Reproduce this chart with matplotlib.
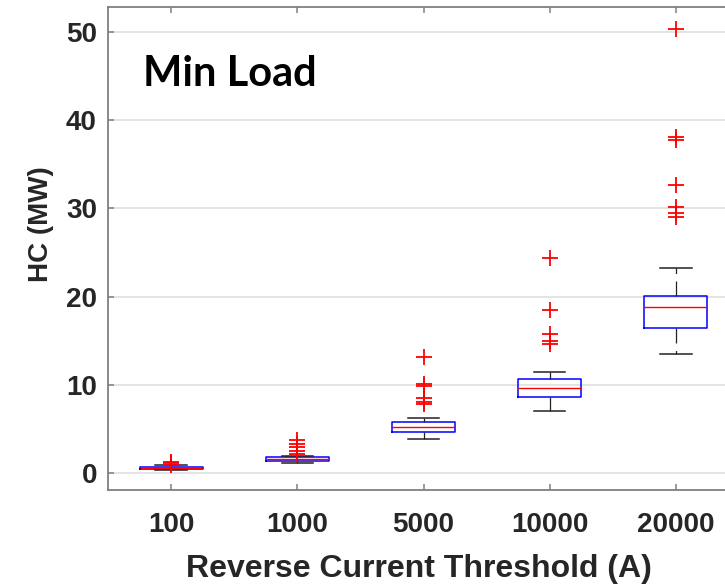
import matplotlib
matplotlib.use('Agg')
import matplotlib.pyplot as plt

categories = ['100', '1000', '5000', '10000', '20000']
q1 = [0.45, 1.40, 4.68, 8.58, 16.47]
medians = [0.55, 1.55, 5.25, 9.67, 18.79]
q3 = [0.65, 1.78, 5.82, 10.62, 20.10]
whisker_low = [0.30, 1.17, 3.80, 7.03, 13.46]
whisker_high = [0.85, 1.96, 6.20, 11.45, 23.28]
outliers = [
    [0.95, 1.10, 1.25],
    [2.10, 2.45, 2.90, 3.30, 3.75],
    [7.80, 8.00, 8.50, 9.90, 10.10, 13.20],
    [14.60, 15.00, 15.70, 18.50, 24.40],
    [29.00, 29.50, 30.20, 32.60, 37.80, 38.10, 50.30],
]
yticks = [0, 10, 20, 30, 40, 50]

W, H = 725, 586
fig = plt.figure(figsize=(W / 100, H / 100), dpi=100)
left, right, top, bottom = 108, 739, 7, 490
ax = fig.add_axes([left / W, 1 - bottom / H, (right - left) / W, (bottom - top) / H])

stats = []
for i, c in enumerate(categories):
    stats.append(dict(label=c, q1=q1[i], med=medians[i], q3=q3[i],
                      whislo=whisker_low[i], whishi=whisker_high[i],
                      fliers=outliers[i]))

positions = list(range(1, len(categories) + 1))
ax.bxp(stats, positions=positions, widths=0.5, showfliers=True,
       boxprops=dict(color='#0000ff', linewidth=1.1),
       medianprops=dict(color='#ff0000', linewidth=1.0),
       whiskerprops=dict(color='#222222', linewidth=0.9, linestyle=(0, (12, 6))),
       capprops=dict(color='#222222', linewidth=1.1),
       flierprops=dict(marker='+', markeredgecolor='#ff0000', markersize=11,
                       markeredgewidth=1.3, linestyle='none'))

ax.set_xlim(0.5, 5.5)
ax.set_ylim(-1.93, 52.83)
ax.set_yticks(yticks)
ax.set_xticks(positions)
ax.set_xticklabels(categories)

ax.yaxis.grid(True, color='#e2e2e2', linewidth=1.3)
ax.set_axisbelow(True)

for s in ax.spines.values():
    s.set_color('#808080')
    s.set_linewidth(1.3)

lab_font = dict(family=['Liberation Sans', 'DejaVu Sans'], weight='bold')
ax.tick_params(axis='both', direction='in', length=4, width=1.1, color='#808080',
               labelcolor='#262626', labelsize=20)
ax.tick_params(axis='x', top=True, pad=16)
ax.tick_params(axis='y', pad=8)
for t in ax.get_xticklabels() + ax.get_yticklabels():
    t.set_fontfamily(['Liberation Sans', 'DejaVu Sans'])
    t.set_fontweight('bold')

ax.set_xlabel('Reverse Current Threshold (A)', fontsize=23, color='#262626', **lab_font)
ax.set_ylabel('HC (MW)', fontsize=20, color='#262626', **lab_font)
ax.xaxis.set_label_coords((418.5 - left) / (right - left), -(554 - bottom) / (bottom - top))
ax.yaxis.set_label_coords(-(108 - 54) / (right - left), (bottom - 224) / (bottom - top))

fig.text(143 / W, 1 - 74 / H, 'Min Load', fontsize=30, fontweight='bold',
         family=['Lato', 'DejaVu Sans'], color='black', ha='left', va='center')

fig.savefig('out.png', dpi=100)
